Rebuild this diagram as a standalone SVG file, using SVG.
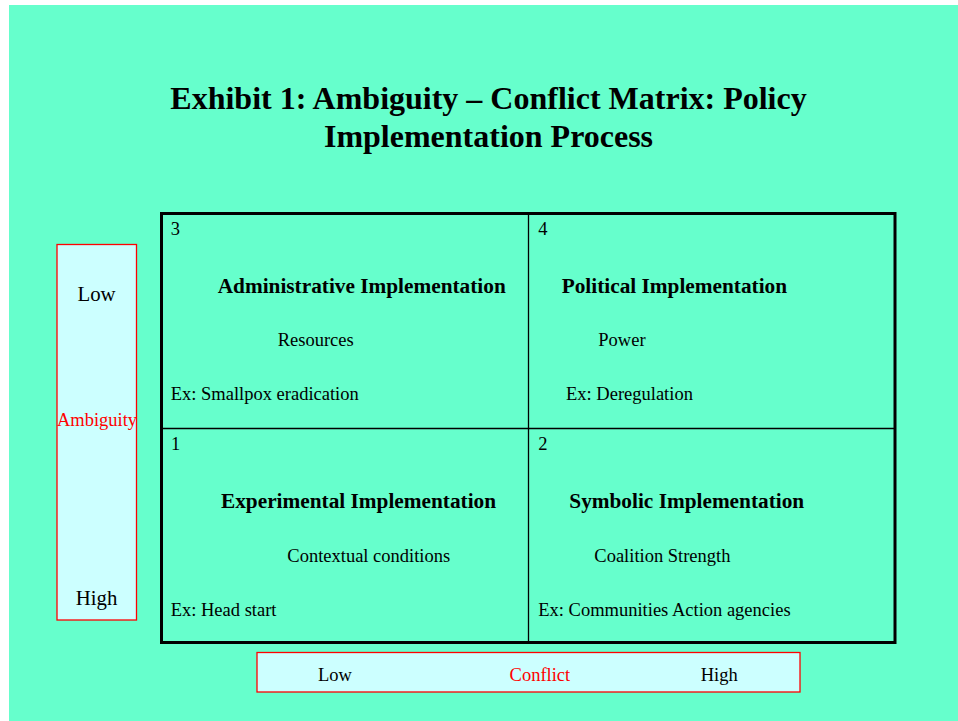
<svg xmlns="http://www.w3.org/2000/svg" width="958" height="721" viewBox="0 0 958 721">
<style>
text{font-family:"Liberation Serif","Times New Roman",serif;fill:#000}
.r{font-size:18.5px}
.b{font-size:21.3px;font-weight:bold}
.t{font-size:32px;font-weight:bold}
.axis{fill:#CCFFFF;stroke:#FF0000;stroke-width:1.3}
.red{fill:#FF0000}
.big{font-size:20.8px}
</style>
<rect x="0" y="0" width="958" height="721" fill="#FFFFFF"/>
<rect x="9" y="5" width="949" height="716" fill="#66FFCC"/>
<g id="title">
<text class="t" x="488.5" y="109.3" text-anchor="middle">Exhibit 1: Ambiguity – Conflict Matrix: Policy</text>
<text class="t" x="488.5" y="146.7" text-anchor="middle">Implementation Process</text>
</g>
<g id="ambiguity-axis">
<rect class="axis" x="57" y="244.5" width="79.5" height="375.5"/>
<text class="r big" x="96.5" y="300.7" text-anchor="middle">Low</text>
<text class="r red" x="97" y="425.7" text-anchor="middle">Ambiguity</text>
<text class="r big" x="96.5" y="605" text-anchor="middle">High</text>
</g>
<g id="conflict-axis">
<rect class="axis" x="257" y="652.5" width="543" height="39.5"/>
<text class="r" x="318" y="680.7">Low</text>
<text class="r red" x="509.6" y="680.7">Conflict</text>
<text class="r" x="700.7" y="680.7">High</text>
</g>
<g id="matrix">
<rect x="161.5" y="213.5" width="733.5" height="429" fill="none" stroke="#000" stroke-width="3"/>
<line x1="528.5" y1="213" x2="528.5" y2="643" stroke="#000" stroke-width="1.3"/>
<line x1="161" y1="428.5" x2="895" y2="428.5" stroke="#000" stroke-width="1.3"/>
</g>
<g id="cell-3">
<text class="r" x="170.7" y="235">3</text>
<text class="b" x="217.7" y="293.3">Administrative Implementation</text>
<text class="r" x="277.7" y="346">Resources</text>
<text class="r" x="170.7" y="400">Ex: Smallpox eradication</text>
</g>
<g id="cell-4">
<text class="r" x="538.3" y="235">4</text>
<text class="b" x="561.7" y="293.3">Political Implementation</text>
<text class="r" x="598.3" y="346">Power</text>
<text class="r" x="566" y="400">Ex: Deregulation</text>
</g>
<g id="cell-1">
<text class="r" x="171" y="450">1</text>
<text class="b" x="221" y="508.3">Experimental Implementation</text>
<text class="r" x="287.3" y="561.7">Contextual conditions</text>
<text class="r" x="170.7" y="615.7">Ex: Head start</text>
</g>
<g id="cell-2">
<text class="r" x="538.3" y="450">2</text>
<text class="b" x="569.3" y="508.3">Symbolic Implementation</text>
<text class="r" x="594.3" y="561.7">Coalition Strength</text>
<text class="r" x="538.3" y="615.7">Ex: Communities Action agencies</text>
</g>
<g id="connectors"></g>
</svg>
